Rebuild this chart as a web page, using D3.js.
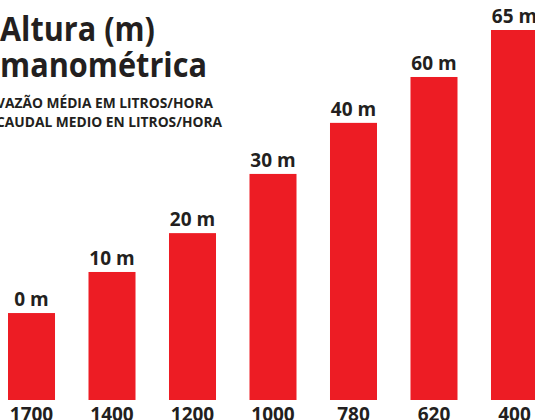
<!DOCTYPE html>
<html>
<head>
<meta charset="utf-8">
<script src="https://cdn.jsdelivr.net/npm/d3@7"></script>
<style>
  body { margin: 0; background: #fff; }
  text { font-family: "Open Sans", "DejaVu Sans", sans-serif; font-weight: bold; fill: #231f20; }
</style>
</head>
<body>
<div class="chart"></div>
<script>
var svgWidth = 535;
var svgHeight = 420;

// flow per hour (x labels), head in metres (bar labels)
var flows = ["1700", "1400", "1200", "1000", "780", "620", "400"];
var heads = [0, 10, 20, 30, 40, 60, 65];
// drawn bar height, as a share of the tallest bar
var barLevel = [23.5, 34.6, 45.1, 61.1, 74.9, 87.3, 100];

var titleLines = ["Altura (m)", "manométrica"];
var subLines = ["VAZÃO MÉDIA EM LITROS/HORA", "CAUDAL MEDIO EN LITROS/HORA"];

var svg = d3.select(".chart")
  .append("svg")
  .attr("width", svgWidth)
  .attr("height", svgHeight);

var xBandScale = d3.scaleBand()
  .domain(flows)
  .range([8, 538])
  .paddingInner(0.416)
  .paddingOuter(0);

var yLinearScale = d3.scaleLinear()
  .domain([0, 100])
  .range([400, 30]);

var rows = flows.map(function(f, i) {
  return { flow: f, head: heads[i], level: barLevel[i] };
});

// bars
svg.selectAll("rect.bar")
  .data(rows)
  .enter().append("rect")
    .attr("class", "bar")
    .attr("x", function(d) { return xBandScale(d.flow); })
    .attr("y", function(d) { return yLinearScale(d.level); })
    .attr("width", xBandScale.bandwidth())
    .attr("height", function(d) { return yLinearScale(0) - yLinearScale(d.level); })
    .attr("fill", "#ed1c24");

// head labels above the bars
svg.selectAll("text.head")
  .data(rows)
  .enter().append("text")
    .attr("class", "head")
    .attr("x", function(d) { return xBandScale(d.flow) + xBandScale.bandwidth() / 2; })
    .attr("y", function(d) { return yLinearScale(d.level) - 7; })
    .attr("text-anchor", "middle")
    .style("font-size", "19px")
    .text(function(d) { return d.head + " m"; });

// flow labels under the bars
var bottomAxis = d3.axisBottom(xBandScale).tickSize(0).tickPadding(0);
var axisG = svg.append("g")
  .attr("transform", "translate(0, 400)")
  .call(bottomAxis);
axisG.select(".domain").remove();
axisG.selectAll("text")
  .attr("dy", null)
  .attr("y", 21)
  .style("font-size", "19px")
  .style("fill", "#231f20")
  .style("font-family", null);

// title
svg.selectAll("text.title")
  .data(titleLines)
  .enter().append("text")
    .attr("class", "title")
    .attr("x", 0)
    .attr("y", function(d, i) { return 41 + i * 36; })
    .attr("textLength", function(d, i) { return i === 0 ? 155 : 207; })
    .attr("lengthAdjust", "spacingAndGlyphs")
    .style("font-size", "34px")
    .text(function(d) { return d; });

svg.selectAll("text.sub")
  .data(subLines)
  .enter().append("text")
    .attr("class", "sub")
    .attr("x", -4)
    .attr("y", function(d, i) { return 108 + i * 19; })
    .attr("textLength", function(d, i) { return i === 0 ? 217 : 226; })
    .attr("lengthAdjust", "spacingAndGlyphs")
    .style("font-size", "14.5px")
    .text(function(d) { return d; });
</script>
</body>
</html>
